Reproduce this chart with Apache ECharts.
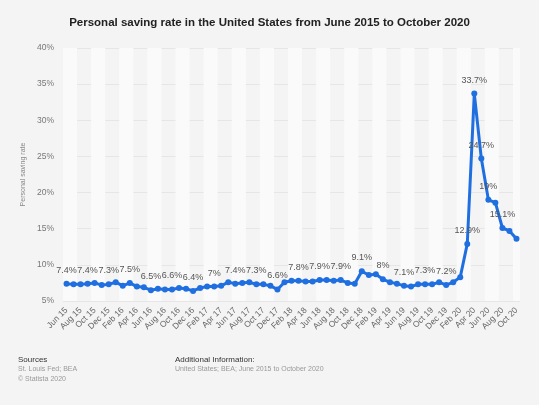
<!DOCTYPE html>
<html>
<head>
<meta charset="utf-8">
<script src="https://cdn.jsdelivr.net/npm/echarts@6/dist/echarts.min.js"></script>
<style>
html, body { margin: 0; padding: 0; background: #f4f4f4; }
#chart { width: 539px; height: 405px; }
</style>
</head>
<body>
<div id="chart"></div>
<script>
// months Jun 15 .. Oct 20
var months = ['Jun 15','Jul 15','Aug 15','Sep 15','Oct 15','Nov 15','Dec 15',
	'Jan 16','Feb 16','Mar 16','Apr 16','May 16','Jun 16','Jul 16','Aug 16','Sep 16','Oct 16','Nov 16','Dec 16',
	'Jan 17','Feb 17','Mar 17','Apr 17','May 17','Jun 17','Jul 17','Aug 17','Sep 17','Oct 17','Nov 17','Dec 17',
	'Jan 18','Feb 18','Mar 18','Apr 18','May 18','Jun 18','Jul 18','Aug 18','Sep 18','Oct 18','Nov 18','Dec 18',
	'Jan 19','Feb 19','Mar 19','Apr 19','May 19','Jun 19','Jul 19','Aug 19','Sep 19','Oct 19','Nov 19','Dec 19',
	'Jan 20','Feb 20','Mar 20','Apr 20','May 20','Jun 20','Jul 20','Aug 20','Sep 20','Oct 20']

var savingRate = [7.4, 7.3, 7.3, 7.4, 7.5, 7.2, 7.3,
	7.6, 7.1, 7.5, 7.0, 6.9, 6.5, 6.7, 6.6, 6.6, 6.8, 6.7, 6.4,
	6.8, 7.0, 7.0, 7.1, 7.6, 7.4, 7.5, 7.6, 7.3, 7.3, 7.1, 6.6,
	7.6, 7.8, 7.8, 7.7, 7.7, 7.9, 7.9, 7.8, 7.9, 7.5, 7.4, 9.1,
	8.6, 8.7, 8.0, 7.6, 7.4, 7.1, 7.0, 7.3, 7.3, 7.3, 7.6, 7.2,
	7.6, 8.3, 12.9, 33.7, 24.7, 19.0, 18.6, 15.1, 14.7, 13.6]

// months whose value is printed on the chart
var labelledMonths = ['Jun 15','Sep 15','Dec 15','Mar 16','Jun 16','Sep 16','Dec 16',
	'Mar 17','Jun 17','Sep 17','Dec 17','Mar 18','Jun 18','Sep 18','Dec 18',
	'Mar 19','Jun 19','Sep 19','Dec 19','Mar 20','Apr 20','May 20','Jun 20','Aug 20']

var yTicks = [5, 10, 15, 20, 25, 30, 35, 40]

var myChart = echarts.init(document.getElementById('chart'))
myChart.setOption({
	backgroundColor: '#f4f4f4',
	animation: false,
	textStyle: { fontFamily: 'Liberation Sans, Arial, sans-serif' },
	title: {
		text: 'Personal saving rate in the United States from June 2015 to October 2020',
		left: 'center',
		top: 12,
		textStyle: { fontSize: 11.5, fontWeight: 'bold', color: '#222' }
	},
	grid: { left: 63, right: 19, top: 48, bottom: 104 },
	xAxis: {
		type: 'category',
		data: months,
		boundaryGap: true,
		axisLine: { show: false },
		axisTick: { show: false },
		axisLabel: { interval: 1, rotate: 45, fontSize: 8.5, color: '#666', margin: 8 },
		splitArea: { show: true, interval: 1, areaStyle: { color: ['#fafafa', 'rgba(0,0,0,0)'] } }
	},
	yAxis: {
		type: 'value',
		min: yTicks[0],
		max: yTicks[yTicks.length - 1],
		interval: 5,
		name: 'Personal saving rate',
		nameLocation: 'middle',
		nameGap: 33,
		nameTextStyle: { fontSize: 7, color: '#888' },
		axisLine: { show: false },
		axisTick: { show: false },
		axisLabel: { formatter: '{value}%', fontSize: 8.5, color: '#777', margin: 9 },
		splitLine: { lineStyle: { color: '#e6e6e6', width: 1 } }
	},
	series: [{
		type: 'line',
		data: savingRate.map(function (v, i) {
			return { value: v, label: { show: labelledMonths.indexOf(months[i]) >= 0 } }
		}),
		symbol: 'circle',
		symbolSize: 6,
		showAllSymbol: true,
		lineStyle: { color: '#1f6fe0', width: 3 },
		itemStyle: { color: '#1f6fe0' },
		label: {
			show: true,
			position: 'top',
			distance: 6,
			fontSize: 9,
			color: '#555',
			formatter: '{c}%'
		},
		labelLayout: { hideOverlap: false }
	}],
	graphic: [
		{ type: 'text', left: 18, top: 356, style: { text: 'Sources', fontSize: 8, fill: '#333', fontFamily: 'Liberation Sans, Arial' } },
		{ type: 'text', left: 18, top: 366, style: { text: 'St. Louis Fed; BEA', fontSize: 7, fill: '#999', fontFamily: 'Liberation Sans, Arial' } },
		{ type: 'text', left: 18, top: 376, style: { text: '\u00a9 Statista 2020', fontSize: 7, fill: '#999', fontFamily: 'Liberation Sans, Arial' } },
		{ type: 'text', left: 175, top: 356, style: { text: 'Additional Information:', fontSize: 8, fill: '#333', fontFamily: 'Liberation Sans, Arial' } },
		{ type: 'text', left: 175, top: 366, style: { text: 'United States; BEA; June 2015 to October 2020', fontSize: 7, fill: '#999', fontFamily: 'Liberation Sans, Arial' } }
	]
})
</script>
</body>
</html>
